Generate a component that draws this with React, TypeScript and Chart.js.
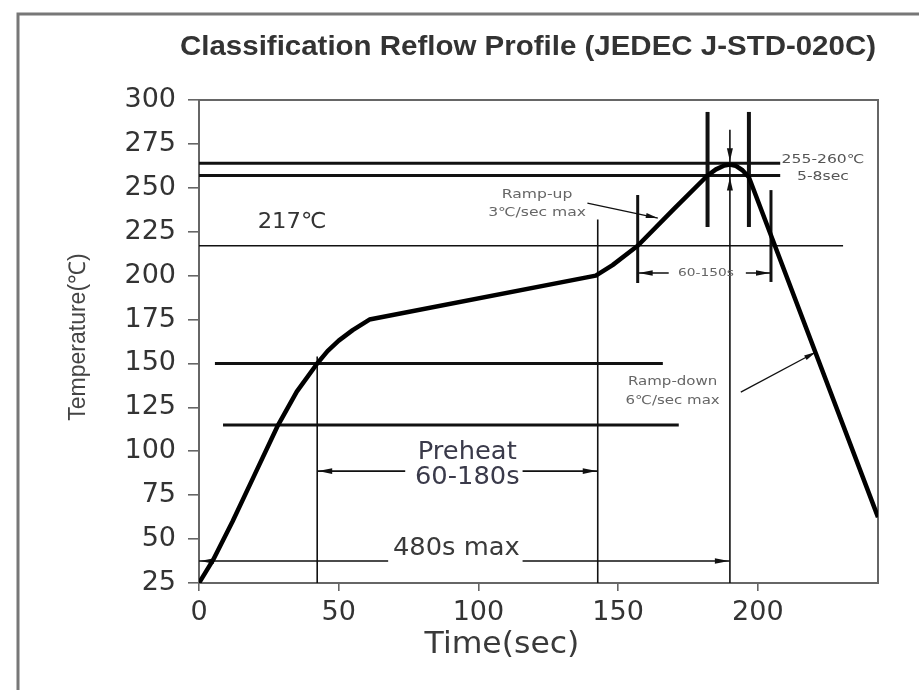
import React, { useEffect, useRef } from "react";
import { Chart, registerables } from "chart.js";

Chart.register(...registerables);

// ---------------- data ----------------
const profileTime = [0, 5, 12, 20, 28, 35, 42.3, 46, 50, 55, 61, 142, 148, 157, 170, 182, 185, 188, 190, 192, 194.5, 196.8, 243];
const profileTemp = [25, 38, 60, 87, 114, 134, 150, 157, 163, 169, 175, 200, 206, 217, 238, 257, 260.5, 262.7, 263.2, 262.6, 260, 256, 62.5];

const xTickValues = [0, 50, 100, 150, 200];
const yTickValues = [25, 50, 75, 100, 125, 150, 175, 200, 225, 250, 275, 300];

// horizontal reference levels (temperature, from time, to time)
const levelTemps = [264, 257, 217, 150, 115];
const levelFrom = [0, 0, 0, 5.7, 8.6];
const levelTo = [208, 208, 230.5, 166, 171.7];

// vertical markers (time, from temp, to temp)
const markerTimes = [42.3, 142.7, 190, 182, 196.8, 157, 204.7];
const markerFrom = [25, 25, 25, 227.7, 227.7, 195.8, 196.4];
const markerTo = [154, 232, 283, 293.2, 293.2, 245.9, 248.7];

// dimension spans
const spanLabels = [["Preheat", "60-180s"], ["480s max"], ["60-150s"]];
const spanTemps = [88.7, 37.5, 201.5];
const spanFrom = [42.3, 0, 157];
const spanTo = [142.7, 190, 204.7];
const spanGapFrom = [73.8, 67.7, 168.1];
const spanGapTo = [115.8, 115.8, 195.7];

// notes
const noteLabels = [["217℃"], ["Ramp-up", "3℃/sec max"], ["Ramp-down", "6℃/sec max"], ["255-260℃", "5-8sec"]];

const titleText = "Classification Reflow Profile (JEDEC J-STD-020C)";
const xTitle = "Time(sec)";
const yTitle = "Temperature(℃)";

// ---------------- layout / styles ----------------
const W = 919;
const H = 690;
const levelWidths = [3, 3, 1.5, 3, 3];
const markerWidths = [1.6, 1.6, 1.6, 4, 4, 3, 3];
const spanLabelPos = [
  { t: 96, T: 92.4, font: '25px "DejaVu Sans"', lh: 25, color: "#3a3a4a", sx: 1.03 },
  { t: 92.1, T: 44.9, font: '25px "DejaVu Sans"', lh: 25, color: "#3a3a3a", sx: 1.03 },
  { t: 181.4, T: 201.5, font: '11px "DejaVu Sans"', lh: 12, color: "#666", sx: 1.25 },
];
const notePos = [
  { t: 33.3, T: 230.5, font: '22px "DejaVu Sans"', lh: 22, color: "#333", sx: 1.03 },
  { t: 121, T: 240.8, font: '12px "DejaVu Sans"', lh: 18, color: "#666", sx: 1.3 },
  { t: 169.5, T: 134, font: '12px "DejaVu Sans"', lh: 19, color: "#666", sx: 1.25 },
  { t: 223.3, T: 261, font: '12px "DejaVu Sans"', lh: 17, color: "#555", sx: 1.3 },
];
const leaderFrom = [
  [139, 241.3],
  [193.9, 133.7],
];
const leaderTo = [
  [164.2, 232.8],
  [220.8, 156.5],
];

function arrowHead(ctx: CanvasRenderingContext2D, x: number, y: number, ang: number, len = 11, half = 3.2) {
  ctx.save();
  ctx.translate(x, y);
  ctx.rotate(ang);
  ctx.beginPath();
  ctx.moveTo(0, 0);
  ctx.lineTo(-len, -half);
  ctx.lineTo(-len, half);
  ctx.closePath();
  ctx.fill();
  ctx.restore();
}

function stretchedText(ctx: CanvasRenderingContext2D, s: string, x: number, y: number, sx: number) {
  ctx.save();
  ctx.translate(x, y);
  ctx.scale(sx, 1);
  ctx.fillText(s, 0, 0);
  ctx.restore();
}

const annotPlugin = {
  id: "reflowAnnotations",
  beforeDraw(chart: any) {
    const ctx: CanvasRenderingContext2D = chart.ctx;
    ctx.save();
    ctx.fillStyle = "#fff";
    ctx.fillRect(0, 0, chart.width, chart.height);
    ctx.strokeStyle = "#777";
    ctx.lineWidth = 3;
    ctx.strokeRect(18, 14, 1200, 1200);
    ctx.restore();
  },
  beforeDatasetsDraw(chart: any) {
    const ctx: CanvasRenderingContext2D = chart.ctx;
    const xs = chart.scales.x;
    const ys = chart.scales.y;
    const X = (v: number) => xs.getPixelForValue(v);
    const Y = (v: number) => ys.getPixelForValue(v);
    const area = chart.chartArea;
    ctx.save();
    ctx.strokeStyle = "#666";
    ctx.lineWidth = 2;
    ctx.strokeRect(area.left, area.top, area.right - area.left, area.bottom - area.top);

    ctx.strokeStyle = "#111";
    ctx.fillStyle = "#111";
    ctx.lineCap = "butt";
    levelTemps.forEach((T, i) => {
      ctx.lineWidth = levelWidths[i];
      ctx.beginPath();
      ctx.moveTo(X(levelFrom[i]), Y(T));
      ctx.lineTo(X(levelTo[i]), Y(T));
      ctx.stroke();
    });
    markerTimes.forEach((t, i) => {
      ctx.lineWidth = markerWidths[i];
      ctx.beginPath();
      ctx.moveTo(X(t), Y(markerFrom[i]));
      ctx.lineTo(X(t), Y(markerTo[i]));
      ctx.stroke();
    });
    ctx.lineWidth = 1.6;
    spanTemps.forEach((T, i) => {
      const y = Y(T);
      const a = X(spanFrom[i]);
      const b = X(spanTo[i]);
      ctx.beginPath();
      ctx.moveTo(a, y);
      ctx.lineTo(X(spanGapFrom[i]), y);
      ctx.moveTo(X(spanGapTo[i]), y);
      ctx.lineTo(b, y);
      ctx.stroke();
      arrowHead(ctx, a + 1, y, Math.PI, 14, 2.8);
      arrowHead(ctx, b - 1, y, 0, 14, 2.8);
    });
    const tp = X(markerTimes[2]);
    arrowHead(ctx, tp, Y(levelTemps[0]) - 2, Math.PI / 2, 13, 3);
    arrowHead(ctx, tp, Y(levelTemps[1]) + 2, -Math.PI / 2, 13, 3);
    ctx.lineWidth = 1.3;
    leaderFrom.forEach((p, i) => {
      const x0 = X(p[0]);
      const y0 = Y(p[1]);
      const x1 = X(leaderTo[i][0]);
      const y1 = Y(leaderTo[i][1]);
      ctx.beginPath();
      ctx.moveTo(x0, y0);
      ctx.lineTo(x1, y1);
      ctx.stroke();
      arrowHead(ctx, x1, y1, Math.atan2(y1 - y0, x1 - x0), 12, 2.6);
    });
    ctx.restore();
  },
  afterDraw(chart: any) {
    const ctx: CanvasRenderingContext2D = chart.ctx;
    const xs = chart.scales.x;
    const ys = chart.scales.y;
    const X = (v: number) => xs.getPixelForValue(v);
    const Y = (v: number) => ys.getPixelForValue(v);
    ctx.save();
    ctx.textAlign = "center";
    ctx.textBaseline = "middle";
    const drawLines = (lines: string[], p: any) => {
      ctx.font = p.font;
      ctx.fillStyle = p.color;
      const cy = Y(p.T);
      const n = lines.length;
      lines.forEach((s, k) => {
        stretchedText(ctx, s, X(p.t), cy + (k - (n - 1) / 2) * p.lh, p.sx);
      });
    };
    spanLabels.forEach((l, i) => drawLines(l, spanLabelPos[i]));
    noteLabels.forEach((l, i) => drawLines(l, notePos[i]));

    // title, stretched to the reference width
    ctx.fillStyle = "#333";
    ctx.font = 'bold 28px "Liberation Sans"';
    const tw = ctx.measureText(titleText).width;
    stretchedText(ctx, titleText, 528, 47, 696 / tw);
    // axis titles
    ctx.font = '30px "DejaVu Sans"';
    ctx.fillStyle = "#3a3a3a";
    stretchedText(ctx, xTitle, 502, 645, 1.05);
    ctx.save();
    ctx.translate(79, 337);
    ctx.rotate(-Math.PI / 2);
    ctx.font = '23px "Liberation Sans"';
    ctx.fillStyle = "#444";
    ctx.fillText(yTitle, 0, 0);
    ctx.restore();
    ctx.restore();
  },
};

export default function App() {
  const ref = useRef<HTMLCanvasElement | null>(null);
  useEffect(() => {
    if (!ref.current) return;
    const chart = new Chart(ref.current, {
      type: "line",
      data: {
        datasets: [
          {
            data: profileTime.map((t, i) => ({ x: t, y: profileTemp[i] })),
            borderColor: "#000",
            borderWidth: 4.5,
            borderJoinStyle: "round",
            pointRadius: 0,
            tension: 0,
            fill: false,
          },
        ],
      },
      options: {
        animation: false,
        responsive: true,
        maintainAspectRatio: false,
        devicePixelRatio: 1,
        layout: { padding: { top: 100, right: 41, left: 0, bottom: 0 } },
        plugins: { legend: { display: false }, tooltip: { enabled: false }, title: { display: false } },
        scales: {
          x: {
            type: "linear",
            min: 0,
            max: 243,
            afterBuildTicks: (s: any) => {
              s.ticks = xTickValues.map((v) => ({ value: v }));
            },
            afterFit: (s: any) => {
              s.height = H - 583;
            },
            grid: { drawOnChartArea: false, drawTicks: true, tickLength: 8, color: "#666", lineWidth: 1.6 },
            border: { display: true, color: "#666", width: 2 },
            ticks: { font: { family: "DejaVu Sans", size: 27 }, color: "#333", padding: 6, maxRotation: 0 },
          },
          y: {
            type: "linear",
            min: 25,
            max: 300,
            afterBuildTicks: (s: any) => {
              s.ticks = yTickValues.map((v) => ({ value: v }));
            },
            afterFit: (s: any) => {
              s.width = 199;
            },
            grid: { drawOnChartArea: false, drawTicks: true, tickLength: 11, color: "#666", lineWidth: 1.6 },
            border: { display: true, color: "#666", width: 2 },
            ticks: { font: { family: "DejaVu Sans", size: 27 }, color: "#333", padding: 12 },
          },
        },
      },
      plugins: [annotPlugin],
    } as any);
    return () => chart.destroy();
  }, []);
  return (
    <div style={{ position: "fixed", left: 0, top: 0, width: W, height: H, background: "#fff" }}>
      <canvas ref={ref} />
    </div>
  );
}
